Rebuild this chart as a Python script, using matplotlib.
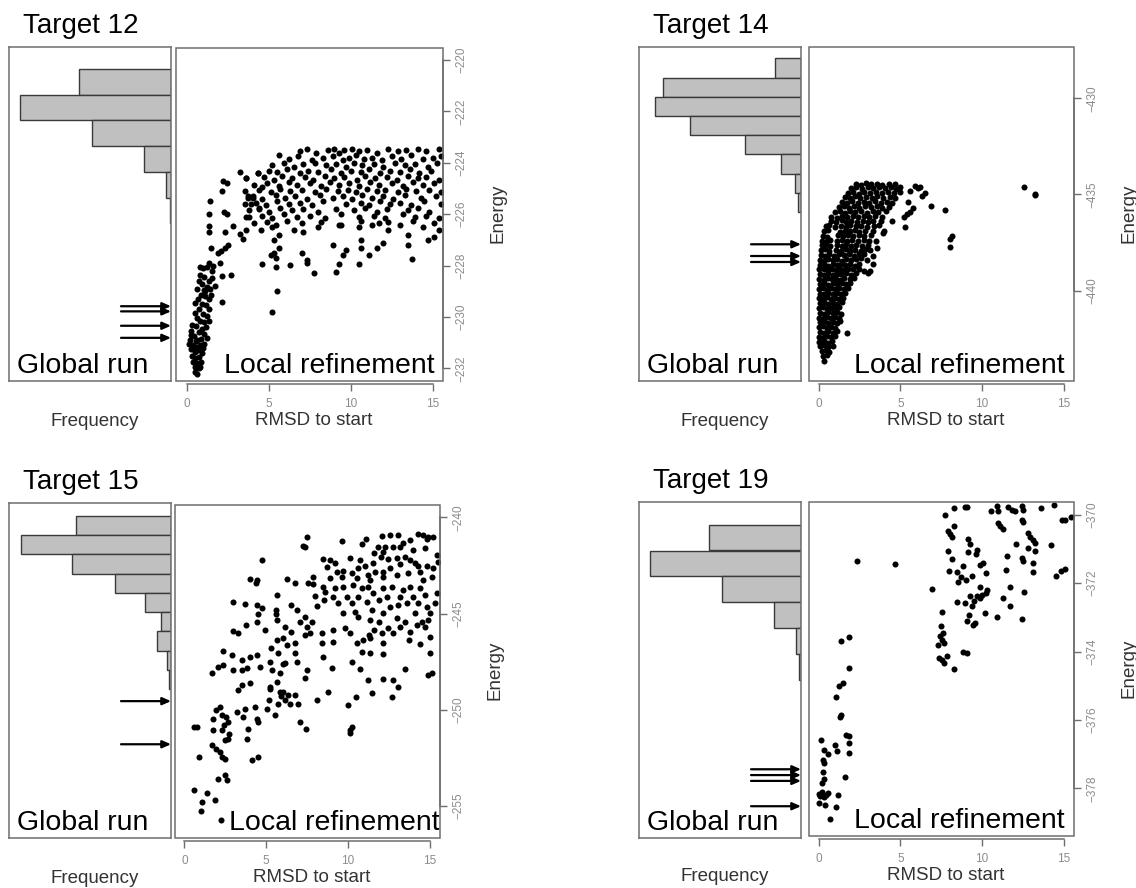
import matplotlib
matplotlib.use('Agg')
import matplotlib.pyplot as plt
from matplotlib.patches import Rectangle

plt.rcParams['font.family'] = ['Liberation Sans', 'DejaVu Sans']

W, H = 1136, 888

# ---------------- data ----------------
# Target 12
t12_bin_top = [-220.35, -221.35, -222.35, -223.35, -224.35, -225.35]
t12_bin_w = 1.0
t12_freq = [92, 151, 79, 27, 5, 1]
t12_arrows = [-229.58, -229.78, -230.34, -230.81]
t12_pts = [
    # low rmsd cluster
    (0.75, -228.05), (0.95, -228.1), (1.2, -228.05), (0.8, -228.35), (1.05, -228.45), (0.7, -228.6),
    (0.9, -228.7), (1.3, -228.6), (1.5, -228.5), (0.6, -228.9), (1.0, -228.95), (1.2, -228.85),
    (1.4, -228.9), (0.85, -229.15), (0.65, -229.3), (1.1, -229.2), (1.3, -229.3), (0.5, -229.45),
    (0.9, -229.5), (1.15, -229.55), (0.7, -229.7), (1.35, -229.7), (0.45, -229.85), (0.95, -229.9),
    (1.2, -229.95), (0.6, -230.05), (0.8, -230.15), (1.05, -230.2), (1.3, -230.15), (0.3, -230.3),
    (0.55, -230.35), (0.9, -230.45), (1.15, -230.4), (0.25, -230.55), (0.7, -230.6), (1.0, -230.65),
    (0.4, -230.75), (0.15, -230.9), (0.6, -230.9), (0.85, -230.85), (1.2, -230.8), (0.1, -231.05),
    (0.35, -231.1), (0.55, -231.15), (0.75, -231.1), (1.0, -231.05), (0.2, -231.25), (0.45, -231.35),
    (0.65, -231.3), (0.9, -231.4), (0.3, -231.5), (0.5, -231.6), (0.7, -231.55), (0.35, -231.75),
    (0.6, -231.8), (0.85, -231.75), (0.45, -231.95), (0.7, -232.0), (0.5, -232.15), (0.6, -232.2),
    (0.75, -231.95), (1.1, -229.0), (0.55, -230.95), (0.95, -231.2), (0.4, -231.15), (0.2, -230.7),
    (1.45, -229.15), (2.1, -229.4), (1.5, -228.2), (1.7, -228.8),
    # rising arm
    (1.3, -227.9), (1.55, -228.0), (2.0, -227.9), (2.1, -228.4), (2.7, -228.35), (1.45, -227.3),
    (1.9, -227.5), (2.05, -227.45), (2.3, -227.3), (2.5, -227.2), (1.35, -226.7), (2.3, -226.7),
    (2.8, -226.45), (1.3, -226.45), (3.2, -226.75), (3.4, -226.95), (1.35, -226.0), (1.4, -225.5),
    (2.1, -225.1), (2.2, -224.7), (3.2, -224.35), (3.6, -224.6), (3.7, -225.3), (3.9, -225.6),
    (3.8, -226.1), (4.0, -225.35), (4.3, -224.4), (4.4, -225.75), (4.6, -224.95), (2.4, -224.8),
    (2.4, -226.0), (2.25, -225.9),
    # main band
    (6.9, -223.55), (7.3, -223.45), (7.9, -223.6), (8.6, -223.5), (9.0, -223.45), (9.3, -223.6),
    (9.6, -223.5), (10.1, -223.45), (10.5, -223.55), (11.0, -223.5), (11.6, -223.6), (12.3, -223.45),
    (12.9, -223.55), (13.4, -223.5), (14.1, -223.45), (14.6, -223.55), (15.4, -223.45),
    (5.6, -223.7), (6.2, -223.85), (6.8, -223.75), (7.6, -223.9), (8.3, -223.8), (8.9, -223.75),
    (9.5, -223.9), (9.9, -223.8), (10.3, -223.7), (10.8, -223.85), (11.3, -223.8), (11.9, -223.9),
    (12.5, -223.75), (13.1, -223.85), (13.7, -223.7), (14.4, -223.85), (15.0, -223.8), (15.5, -223.75),
    (5.2, -224.1), (5.9, -224.0), (6.5, -224.15), (7.1, -224.05), (7.8, -224.0), (8.5, -224.1),
    (9.1, -224.05), (9.7, -224.15), (10.2, -224.0), (10.7, -224.1), (11.4, -224.05), (12.0, -224.15),
    (12.7, -224.0), (13.3, -224.1), (13.9, -224.05), (14.7, -224.15), (15.3, -224.0),
    (4.3, -224.4), (5.0, -224.3), (5.5, -224.35), (6.1, -224.25), (6.9, -224.4), (7.4, -224.3),
    (8.0, -224.35), (8.8, -224.25), (9.4, -224.4), (10.0, -224.3), (10.6, -224.35), (11.1, -224.25),
    (11.8, -224.4), (12.4, -224.3), (13.0, -224.35), (13.6, -224.25), (14.2, -224.4), (14.9, -224.3),
    (3.6, -224.6), (4.7, -224.55), (5.3, -224.65), (5.8, -224.5), (6.4, -224.6), (7.2, -224.55),
    (7.7, -224.65), (8.4, -224.5), (9.0, -224.6), (9.6, -224.55), (10.4, -224.65), (10.9, -224.5),
    (11.5, -224.6), (12.2, -224.55), (12.8, -224.65), (13.5, -224.5), (14.1, -224.6), (14.6, -224.55),
    (15.4, -224.65),
    (4.1, -224.85), (4.9, -224.8), (5.6, -224.9), (6.2, -224.75), (6.7, -224.85), (7.5, -224.8),
    (8.2, -224.9), (8.7, -224.75), (9.3, -224.85), (9.9, -224.8), (10.5, -224.9), (11.2, -224.75),
    (11.7, -224.85), (12.5, -224.8), (13.2, -224.9), (13.8, -224.75), (14.4, -224.85), (15.1, -224.8),
    (3.5, -225.1), (4.4, -225.05), (5.1, -225.15), (5.7, -225.0), (6.3, -225.1), (7.0, -225.05),
    (7.8, -225.15), (8.5, -225.0), (9.2, -225.1), (9.8, -225.05), (10.3, -225.15), (11.0, -225.0),
    (11.6, -225.1), (12.1, -225.05), (12.9, -225.15), (13.4, -225.0), (14.0, -225.1), (14.8, -225.05),
    (15.5, -225.15),
    (3.7, -225.35), (4.0, -225.3), (4.6, -225.4), (5.4, -225.25), (6.0, -225.35), (6.6, -225.3),
    (7.3, -225.4), (8.1, -225.25), (8.9, -225.35), (9.5, -225.3), (10.1, -225.4), (10.7, -225.25),
    (11.3, -225.35), (12.0, -225.3), (12.6, -225.4), (13.3, -225.25), (14.3, -225.35), (15.2, -225.3),
    (3.5, -225.6), (4.2, -225.55), (4.8, -225.65), (5.5, -225.5), (6.2, -225.6), (6.9, -225.55),
    (7.6, -225.65), (8.3, -225.5), (9.7, -225.6), (10.6, -225.55), (11.1, -225.65), (11.8, -225.5),
    (12.4, -225.6), (13.0, -225.55), (13.7, -225.65), (14.5, -225.5), (15.5, -225.6),
    (3.8, -225.85), (4.4, -225.8), (5.0, -225.9), (5.7, -225.75), (6.4, -225.85), (7.1, -225.8),
    (8.0, -225.9), (9.1, -225.8), (10.2, -225.85), (10.9, -225.75), (11.6, -225.9), (12.2, -225.8),
    (13.5, -225.85), (14.1, -225.75), (14.8, -225.9),
    (3.6, -226.1), (4.6, -226.05), (5.2, -226.15), (5.9, -226.0), (6.7, -226.1), (7.5, -226.05),
    (8.4, -226.15), (9.4, -226.0), (10.5, -226.1), (11.4, -226.05), (12.1, -226.15), (13.2, -226.0),
    (13.9, -226.1), (14.6, -226.05), (15.4, -226.15),
    (4.1, -226.35), (4.9, -226.3), (5.4, -226.4), (6.1, -226.25), (7.0, -226.35), (8.2, -226.3),
    (9.3, -226.4), (10.6, -226.25), (11.7, -226.35), (12.3, -226.3), (13.0, -226.4), (13.8, -226.25),
    (15.1, -226.35),
    # sparse lower points
    (4.5, -226.6), (5.2, -226.5), (5.6, -226.8), (6.5, -226.6), (7.1, -226.7), (8.0, -226.5),
    (9.4, -226.4), (10.5, -226.5), (11.3, -226.4), (12.3, -226.6), (13.5, -226.8), (14.4, -226.5),
    (15.4, -226.6), (14.7, -227.0), (15.1, -226.9), (3.6, -226.6), (5.3, -227.0), (5.6, -227.3),
    (5.3, -227.5), (5.45, -227.7), (5.15, -227.6), (7.0, -227.5), (8.9, -227.2), (10.6, -227.0),
    (10.6, -227.3), (11.6, -227.3), (12.0, -227.1), (13.5, -227.2), (7.3, -227.8), (9.5, -227.6),
    (9.7, -227.4), (4.55, -227.95), (5.45, -228.05), (6.3, -227.98), (7.3, -227.9), (7.76, -228.3),
    (9.08, -228.26), (9.3, -227.95), (10.5, -227.95), (11.1, -227.6), (13.73, -227.76), (5.5, -229.0),
    (5.16, -229.8),
]

# Target 14
t14_bin_top = [-427.92, -428.92, -429.92, -430.92, -431.92, -432.92, -433.92, -434.92]
t14_bin_w = 1.0
t14_freq = [25.7, 138, 145.7, 110.7, 56.4, 20, 6.4, 3]
t14_arrows = [-437.59, -438.2, -438.51]
t14_pts = [
    (0.35, -443.65), (0.25, -443.4), (0.5, -443.35), (0.2, -443.15), (0.45, -443.1), (0.65, -443.2),
    (0.1, -442.9), (0.35, -442.85), (0.6, -442.95), (0.85, -442.88),
    (0.05, -442.65), (0.3, -442.6), (0.55, -442.7), (0.8, -442.62),
    (0.0, -442.4), (0.25, -442.45), (0.5, -442.35), (0.75, -442.42), (1.0, -442.38),
    (0.1, -442.15), (0.35, -442.2), (0.6, -442.1), (0.85, -442.18), (1.1, -442.12), (1.75, -442.2),
    (0.0, -441.9), (0.25, -441.85), (0.5, -441.95), (0.75, -441.88), (1.0, -441.92),
    (0.1, -441.65), (0.35, -441.6), (0.6, -441.7), (0.85, -441.62), (1.1, -441.68), (1.3, -441.6),
    (0.0, -441.4), (0.25, -441.45), (0.5, -441.35), (0.75, -441.42), (1.0, -441.38), (1.25, -441.4),
    (0.1, -441.15), (0.35, -441.2), (0.6, -441.1), (0.85, -441.18), (1.1, -441.12), (1.35, -441.2),
    (0.0, -440.9), (0.25, -440.85), (0.5, -440.95), (0.75, -440.88), (1.0, -440.92), (1.25, -440.86),
    (0.1, -440.65), (0.35, -440.6), (0.6, -440.7), (0.85, -440.62), (1.1, -440.68), (1.4, -440.6),
    (0.0, -440.4), (0.25, -440.45), (0.5, -440.35), (0.75, -440.42), (1.0, -440.38), (1.25, -440.44),
    (1.5, -440.36),
    (0.1, -440.15), (0.35, -440.2), (0.6, -440.1), (0.85, -440.18), (1.1, -440.12), (1.35, -440.16),
    (1.6, -440.1),
    (0.0, -439.9), (0.25, -439.85), (0.5, -439.95), (0.75, -439.88), (1.0, -439.92), (1.25, -439.86),
    (1.55, -439.9), (1.8, -439.85),
    (0.1, -439.65), (0.35, -439.6), (0.6, -439.7), (0.85, -439.62), (1.1, -439.68), (1.4, -439.6),
    (1.7, -439.66), (1.95, -439.6),
    (0.05, -439.4), (0.3, -439.45), (0.55, -439.35), (0.8, -439.42), (1.05, -439.38), (1.3, -439.44),
    (1.55, -439.36), (1.9, -439.42), (2.15, -439.35),
    (0.1, -439.15), (0.35, -439.2), (0.6, -439.1), (0.85, -439.18), (1.1, -439.12), (1.35, -439.16),
    (1.65, -439.1), (2.0, -439.18), (2.3, -439.1),
    (0.05, -438.9), (0.3, -438.85), (0.55, -438.95), (0.8, -438.88), (1.05, -438.92), (1.3, -438.86),
    (1.55, -438.94), (1.8, -438.88), (2.1, -438.9), (2.45, -438.85), (2.75, -439.0), (3.15, -439.0),
    (0.1, -438.65), (0.35, -438.6), (0.6, -438.7), (0.85, -438.62), (1.1, -438.68), (1.35, -438.6),
    (1.6, -438.66), (1.9, -438.62), (2.2, -438.7), (2.5, -438.64),
    (0.1, -438.4), (0.35, -438.45), (0.6, -438.35), (0.85, -438.42), (1.1, -438.38), (1.4, -438.44),
    (1.7, -438.36), (2.0, -438.42), (2.3, -438.38), (2.6, -438.3), (2.95, -438.4),
    (0.15, -438.15), (0.4, -438.2), (0.65, -438.1), (0.95, -438.18), (1.25, -438.12), (1.55, -438.16),
    (1.85, -438.1), (2.15, -438.18), (2.45, -438.12), (2.75, -438.1), (3.3, -438.2),
    (0.15, -437.9), (0.4, -437.85), (0.65, -437.95), (1.05, -437.88), (1.35, -437.92), (1.65, -437.86),
    (1.95, -437.94), (2.25, -437.88), (2.6, -437.92), (2.9, -437.85), (3.15, -437.9),
    (0.2, -437.65), (0.45, -437.6), (0.7, -437.7), (1.1, -437.62), (1.4, -437.68), (1.7, -437.6),
    (2.0, -437.66), (2.3, -437.62), (2.65, -437.7), (3.0, -437.64), (3.6, -437.8),
    (0.2, -437.4), (0.45, -437.45), (0.7, -437.35), (1.15, -437.42), (1.45, -437.38), (1.75, -437.44),
    (2.05, -437.36), (2.4, -437.42), (2.75, -437.38), (3.1, -437.44), (3.5, -437.4),
    (0.25, -437.15), (0.5, -437.2), (1.2, -437.1), (1.5, -437.18), (1.8, -437.12), (2.1, -437.16),
    (2.45, -437.1), (2.8, -437.18), (3.2, -437.12), (3.96, -437.0),
    (0.3, -436.9), (0.55, -436.85), (1.3, -436.95), (1.6, -436.88), (1.9, -436.92), (2.2, -436.86),
    (2.5, -436.94), (2.85, -436.88), (3.3, -436.9), (4.0, -436.9),
    (0.45, -436.65), (0.65, -436.6), (1.0, -436.7), (1.35, -436.62), (1.65, -436.68), (1.95, -436.6),
    (2.3, -436.66), (2.6, -436.62), (2.95, -436.7), (3.4, -436.64), (3.7, -436.6), (5.29, -436.7),
    (0.75, -436.4), (1.05, -436.45), (1.4, -436.35), (1.7, -436.42), (2.0, -436.38), (2.35, -436.44),
    (2.7, -436.36), (3.0, -436.42), (3.35, -436.38), (3.8, -436.4), (4.5, -436.4),
    (0.75, -436.15), (1.1, -436.2), (1.45, -436.1), (1.75, -436.18), (2.1, -436.12), (2.4, -436.16),
    (2.75, -436.1), (3.1, -436.18), (3.45, -436.12), (3.9, -436.16), (5.4, -436.0), (5.25, -436.15),
    (1.0, -435.9), (1.3, -435.85), (1.6, -435.95), (1.95, -435.88), (2.25, -435.92), (2.6, -435.86),
    (2.95, -435.94), (3.3, -435.88), (3.65, -435.92), (4.1, -435.86), (5.6, -435.9),
    (1.25, -435.65), (1.55, -435.6), (1.85, -435.7), (2.15, -435.62), (2.5, -435.68), (2.85, -435.6),
    (3.2, -435.66), (3.55, -435.62), (3.9, -435.7), (4.3, -435.64), (5.8, -435.7), (6.9, -435.6),
    (7.73, -435.8),
    (1.45, -435.4), (1.75, -435.45), (2.05, -435.35), (2.4, -435.42), (2.75, -435.38), (3.1, -435.44),
    (3.45, -435.36), (3.8, -435.42), (4.2, -435.38), (4.5, -435.44), (5.45, -435.4),
    (1.6, -435.15), (1.9, -435.2), (2.2, -435.1), (2.55, -435.18), (2.9, -435.12), (3.25, -435.16),
    (3.6, -435.1), (3.95, -435.18), (4.35, -435.12), (4.7, -435.16), (6.3, -435.1), (13.23, -435.05),
    (1.8, -434.9), (2.1, -434.85), (2.45, -434.95), (2.8, -434.88), (3.15, -434.92), (3.5, -434.86),
    (3.85, -434.94), (4.25, -434.88), (4.6, -434.92), (4.95, -434.86), (5.6, -434.8), (6.5, -434.9),
    (13.25, -434.95),
    (2.0, -434.65), (2.3, -434.6), (2.65, -434.7), (3.0, -434.62), (3.35, -434.68), (3.7, -434.6),
    (4.05, -434.66), (4.4, -434.62), (4.75, -434.7), (5.0, -434.6), (6.1, -434.65), (12.56, -434.63),
    (2.3, -434.45), (2.6, -434.5), (2.9, -434.42), (3.2, -434.48), (3.55, -434.44), (3.9, -434.5),
    (4.3, -434.45), (4.7, -434.48), (5.9, -434.55), (6.2, -434.6),
    (8.04, -437.3), (8.14, -437.15), (8.04, -437.75), (3.3, -438.6), (3.0, -439.1),
]

# Target 15
t15_bin_top = [-239.93, -240.93, -241.93, -242.93, -243.93, -244.93, -245.93, -246.93, -247.93]
t15_bin_w = 1.0
t15_freq = [94.7, 149.7, 98.7, 55.7, 26.4, 10.4, 13.7, 4.4, 2.4]
t15_arrows = [-249.55, -251.79]
t15_pts = [
    (7.47, -241.04), (7.27, -241.49), (7.37, -241.55), (9.65, -241.21), (10.87, -241.39), (11.09, -241.13),
    (12.05, -240.95), (12.56, -240.92), (13.07, -240.92), (14.29, -240.88), (14.59, -240.92), (14.9, -241.04),
    (15.2, -241.04), (14.8, -241.15), (13.37, -241.35), (13.78, -241.18), (11.85, -241.56), (12.26, -241.56),
    (12.72, -241.53), (13.17, -241.56), (13.98, -241.7), (14.7, -241.61), (15.41, -241.96), (11.58, -241.87),
    (12.15, -241.79),
    (4.72, -242.22), (8.45, -242.17), (8.9, -242.22), (9.2, -242.36), (10.12, -242.13), (10.72, -242.22),
    (11.03, -242.53), (11.54, -242.36), (11.99, -242.08), (12.46, -242.18), (12.97, -242.13), (13.47, -242.05),
    (14.08, -242.36), (14.29, -242.53), (14.8, -242.53), (15.2, -242.65), (15.51, -242.31), (13.78, -242.22),
    (13.17, -242.43), (12.56, -242.65), (12.15, -242.83), (11.64, -242.83), (11.2, -243.0), (10.62, -242.65),
    (10.22, -242.91), (9.71, -242.77), (9.3, -242.83), (8.69, -242.57), (7.88, -243.09), (7.57, -243.43),
    (6.25, -243.23), (6.76, -243.43), (4.42, -243.26), (4.37, -243.43), (4.0, -243.23), (8.9, -243.17),
    (9.61, -243.09), (10.52, -243.17), (11.34, -243.26), (12.15, -243.09), (12.97, -243.0), (13.68, -242.91),
    (14.39, -242.83), (15.1, -243.09), (14.59, -243.26),
    (2.99, -244.42), (3.7, -244.51), (4.46, -244.56), (4.52, -245.03), (4.72, -244.73), (5.68, -244.04),
    (5.6, -244.79), (5.6, -245.0), (6.49, -244.53), (6.86, -244.82), (7.37, -245.17), (7.77, -245.43),
    (7.98, -244.09), (8.53, -244.3), (8.59, -243.87), (9.1, -244.13), (9.4, -244.44), (9.91, -244.13),
    (10.22, -244.47), (10.62, -244.13), (11.13, -244.39), (11.54, -243.95), (11.91, -244.3), (12.36, -244.13),
    (12.56, -244.65), (13.07, -244.56), (13.17, -244.13), (13.61, -244.44), (13.98, -244.13), (14.29, -244.47),
    (14.8, -244.65), (15.41, -243.95), (15.3, -244.47), (14.7, -244.05), (13.78, -243.61), (14.39, -243.69),
    (13.37, -243.78), (12.66, -243.61), (12.15, -243.69), (11.24, -243.61), (10.83, -243.69), (10.28, -243.52),
    (9.71, -243.61), (9.2, -243.69), (8.45, -243.61), (7.88, -243.47), (8.08, -244.61), (10.42, -244.91),
    (11.44, -244.82), (12.15, -244.99), (14.08, -244.99), (15.0, -244.99), (9.71, -244.99),
    (2.99, -245.91), (3.3, -246.03), (3.77, -245.57), (4.46, -245.43), (4.93, -245.86), (5.64, -245.34),
    (6.15, -245.69), (6.49, -245.95), (7.06, -245.43), (7.47, -245.69), (7.69, -246.03), (7.37, -246.12),
    (5.64, -246.38), (6.04, -246.29), (6.25, -246.64), (6.76, -246.55), (8.38, -246.0), (9.1, -245.86),
    (8.38, -246.55), (9.1, -246.47), (9.81, -245.77), (10.12, -246.03), (10.52, -246.52), (10.93, -246.38),
    (11.28, -246.12), (11.58, -245.86), (12.05, -246.03), (12.46, -245.77), (12.76, -246.03), (13.17, -245.69),
    (13.47, -245.43), (13.78, -245.95), (14.18, -245.6), (14.49, -245.43), (14.69, -245.69), (15.0, -246.21),
    (14.39, -246.59), (13.74, -246.35), (12.15, -246.55), (11.34, -246.29), (10.62, -245.17), (11.34, -245.34),
    (11.91, -245.43), (12.97, -245.25), (14.9, -245.34),
    (2.38, -246.94), (2.89, -247.16), (3.5, -247.42), (4.0, -247.25), (4.42, -247.16), (2.99, -247.94),
    (3.5, -247.94), (3.81, -247.85), (4.62, -247.77), (5.23, -247.51), (5.27, -246.81), (5.74, -247.07),
    (6.15, -247.56), (6.76, -247.07), (6.86, -247.51), (7.47, -247.94), (7.37, -248.34), (8.49, -247.25),
    (9.04, -247.82), (10.22, -247.51), (10.72, -247.86), (10.83, -246.99), (11.34, -247.07), (11.24, -248.46),
    (12.15, -248.38), (12.76, -248.46), (13.02, -248.81), (13.47, -247.86), (15.0, -247.07), (14.9, -248.2),
    (15.1, -248.1), (12.15, -247.12), (5.33, -247.94), (5.84, -248.11), (6.05, -247.6), (1.67, -248.08),
    (4.0, -248.63), (3.5, -248.72), (3.3, -248.98), (5.23, -248.81), (5.64, -248.55), (5.84, -249.07),
    (6.04, -249.07), (6.35, -249.24), (6.15, -249.47), (5.9, -249.3), (6.76, -249.24), (6.96, -249.68),
    (6.45, -249.68), (5.74, -249.68), (8.08, -249.5), (8.79, -249.07), (10.01, -249.76), (10.48, -249.36),
    (11.44, -249.12), (12.66, -249.33), (10.12, -251.06), (10.12, -251.2), (10.22, -250.89),
    (2.08, -247.77), (2.38, -247.68),
    (2.18, -249.85), (1.93, -250.02), (2.28, -250.28), (1.77, -250.46), (2.54, -250.37), (2.69, -250.63),
    (2.42, -250.8), (1.77, -251.06), (2.28, -251.06), (2.75, -251.24), (2.69, -251.5), (2.48, -251.58),
    (1.67, -251.84), (1.93, -252.02), (2.18, -252.19), (2.28, -252.45), (2.48, -252.54), (0.61, -250.89),
    (0.75, -250.89), (0.92, -252.45), (2.08, -253.58), (2.48, -253.4), (2.58, -253.66), (0.59, -254.18),
    (1.36, -254.32), (1.1, -254.79), (1.87, -254.7), (1.02, -255.26), (2.22, -255.71), (3.91, -250.98),
    (3.81, -251.5), (4.11, -252.62), (4.52, -252.45), (4.42, -250.46), (4.52, -250.63), (3.7, -249.94),
    (3.6, -250.37), (4.32, -249.85), (3.2, -250.11), (5.03, -249.94), (5.19, -249.5), (5.23, -248.9),
    (5.54, -250.28), (7.06, -250.63), (7.43, -250.98),
]

# Target 19
t19_bin_top = [-370.29, -371.05, -371.8, -372.56, -373.31, -374.07]
t19_bin_w = 0.755
t19_freq = [92.4, 150.7, 78.7, 27.4, 5.4, 2]
t19_arrows = [-377.44, -377.61, -377.78, -378.52]
t19_pts = [
    (0.0, -378.15), (0.1, -378.21), (0.2, -378.1), (0.31, -378.24), (0.47, -378.2), (0.55, -378.13),
    (0.0, -378.44), (0.41, -378.49), (1.08, -378.54), (0.67, -378.88), (1.16, -378.2), (0.2, -377.85),
    (0.31, -377.71), (0.26, -377.51), (0.31, -377.27), (0.26, -377.17), (0.14, -376.59), (0.31, -376.88),
    (0.55, -376.98), (1.02, -376.73), (1.12, -376.9), (1.59, -377.66), (1.67, -376.44), (1.85, -376.47),
    (1.83, -376.68), (1.83, -376.95), (1.28, -375.9), (1.36, -375.85), (1.08, -375.34), (1.22, -375.02),
    (1.49, -374.91), (1.83, -374.47), (1.36, -373.69), (1.83, -373.58), (2.34, -371.34), (4.7, -371.43),
    (6.92, -372.18),
    (7.53, -372.85), (7.49, -373.24), (7.59, -373.46), (7.43, -373.56), (7.53, -373.66), (7.67, -373.76),
    (7.29, -373.8), (7.37, -374.2), (7.53, -374.26), (7.67, -374.34), (8.28, -374.5), (7.84, -374.13),
    (8.85, -374.02), (9.06, -374.03), (7.73, -370.0), (8.28, -369.8), (8.96, -369.78), (9.1, -369.78),
    (10.58, -369.9), (10.89, -369.76), (10.99, -369.9), (11.6, -369.79), (11.81, -369.85), (12.01, -369.9),
    (12.42, -369.76), (12.52, -369.87), (13.64, -369.8), (14.39, -369.73), (15.47, -370.07), (15.06, -370.15),
    (14.92, -370.17), (14.25, -370.9), (13.13, -370.73), (12.82, -370.98), (13.23, -371.05), (12.92, -370.65),
    (12.11, -370.85), (12.42, -371.27), (12.52, -371.34), (11.5, -371.22), (11.46, -371.61), (11.74, -372.1),
    (12.56, -372.27), (11.3, -372.44), (11.7, -372.66), (10.93, -373.0), (12.42, -373.04), (14.55, -371.8),
    (14.86, -371.66), (15.06, -371.59), (13.13, -371.41), (13.13, -371.69), (12.42, -370.15), (12.52, -370.22),
    (10.99, -370.24), (11.3, -370.42), (11.13, -370.32), (12.82, -370.54), (13.23, -370.83), (7.94, -370.47),
    (8.04, -370.57), (8.14, -370.65), (8.28, -370.32), (7.94, -371.07), (8.14, -371.3), (7.98, -371.66),
    (8.45, -371.69), (8.55, -371.98), (8.69, -371.83), (8.85, -371.49), (9.02, -371.9), (9.36, -371.8),
    (9.16, -370.71), (9.26, -370.85), (9.16, -371.1), (9.67, -371.02), (9.63, -371.14), (9.87, -371.46),
    (10.08, -371.41), (10.24, -371.71), (10.28, -372.2), (10.24, -372.29), (9.87, -372.44), (9.67, -372.39),
    (9.51, -372.51), (9.36, -372.68), (9.22, -372.93), (9.06, -373.12), (9.42, -373.22), (9.57, -373.17),
    (8.96, -372.59), (8.45, -372.54), (10.18, -372.88), (9.26, -372.39), (9.97, -372.34), (9.87, -372.1),
]

BOX = '#6e6e6e'
TICKLAB = '#8c8c8c'
BIG = 20.5


def frac(l, t, r, b):
    # pixel box -> figure fraction
    return [l / W, 1 - b / H, (r - l) / W, (b - t) / H]


def panel(fig, title, hist_px, scat_px, xlim, ylim, yticks, pts, bin_top, bin_w, freq, arrows, local_x):
    sl, st, sr, sb = scat_px
    hl, ht, hr, hb = hist_px
    # energy per pixel of the scatter box, so the histogram lines up with it
    upp = (ylim[1] - ylim[0]) / (sb - st)
    hylim = (ylim[0] - (hb - sb) * upp, ylim[1] + (st - ht) * upp)

    # histogram of the global run
    hx = fig.add_axes(frac(*hist_px))
    bottoms = [t - bin_w for t in bin_top]
    hx.barh(bottoms, freq, height=bin_w, align='edge', color='#c0c0c0',
            edgecolor='#3a3a3a', linewidth=1.0)
    hx.set_xlim(hr - hl, 0)
    hx.set_ylim(hylim)
    hx.set_xticks([])
    hx.set_yticks([])
    for s in hx.spines.values():
        s.set_color(BOX)
        s.set_linewidth(1.1)
    for ya in arrows:
        hx.annotate('', xy=(0, ya), xytext=(50, ya),
                    arrowprops=dict(arrowstyle='-|>,head_length=0.5,head_width=0.22',
                                    color='black', lw=1.6, shrinkA=0, shrinkB=0))
    hx.text(8 / (hr - hl), 0.024, 'Global run', transform=hx.transAxes,
            fontsize=BIG, ha='left', va='baseline')

    # local refinement scatter
    sx = fig.add_axes(frac(*scat_px))
    xs = [p[0] for p in pts]
    ys = [p[1] for p in pts]
    sx.scatter(xs, ys, s=19, c='black', linewidths=0, zorder=3)
    sx.set_xlim(xlim)
    sx.set_ylim(ylim)
    sx.add_patch(Rectangle((0, 0), 1, 1, transform=sx.transAxes, fill=False,
                           ec=BOX, lw=1.1, clip_on=False, zorder=5))
    sx.spines['top'].set_visible(False)
    sx.spines['left'].set_visible(False)
    sx.spines['bottom'].set_position(('outward', 2.5))
    sx.spines['bottom'].set_bounds(0, 15)
    sx.spines['right'].set_bounds(yticks[-1], yticks[0])
    for k in ('bottom', 'right'):
        sx.spines[k].set_color(BOX)
        sx.spines[k].set_linewidth(1.1)
    sx.yaxis.tick_right()
    sx.set_xticks([0, 5, 10, 15])
    sx.set_yticks(yticks)
    sx.tick_params(axis='both', direction='out', length=5, width=1, color=BOX,
                   labelcolor=TICKLAB, labelsize=8.5)
    sx.tick_params(axis='x', pad=5)
    sx.tick_params(axis='y', pad=4, labelrotation=90)
    for lab in sx.get_yticklabels():
        lab.set_va('center')
    sx.text(local_x, 0.024, 'Local refinement', transform=sx.transAxes,
            fontsize=BIG, ha='right', va='baseline', zorder=4)

    # labels around the panel
    fig.text((hl + 14) / W, 1 - (ht - 14) / H, title, fontsize=20, va='baseline')
    fig.text(((hl + hr) / 2 + 5) / W, 1 - (sb + 40) / H, 'Frequency',
             fontsize=13.5, ha='center', va='center', color='#333333')
    fig.text(((sl + sr) / 2 + 4) / W, 1 - (sb + 39) / H, 'RMSD to start',
             fontsize=13.5, ha='center', va='center', color='#333333')
    fig.text((sr + 55) / W, 1 - ((st + sb) / 2 - 1) / H, 'Energy', rotation=90,
             fontsize=13.5, ha='center', va='center', color='#333333')


fig = plt.figure(figsize=(W / 100, H / 100), dpi=100)

panel(fig, 'Target 12', (9, 47, 171, 381), (176, 48, 443, 381), (-0.69, 15.64), (-232.49, -219.53),
      [-220, -222, -224, -226, -228, -230, -232], t12_pts, t12_bin_top, t12_bin_w, t12_freq, t12_arrows, 0.97)
panel(fig, 'Target 14', (639, 47, 801, 381), (809, 47, 1074, 381), (-0.59, 15.63), (-444.7, -427.33),
      [-430, -435, -440], t14_pts, t14_bin_top, t14_bin_w, t14_freq, t14_arrows, 0.966)
panel(fig, 'Target 15', (9, 503, 171, 838), (175, 505, 440, 838), (-0.57, 15.61), (-256.66, -239.36),
      [-240, -245, -250, -255], t15_pts, t15_bin_top, t15_bin_w, t15_freq, t15_arrows, 1.0)
panel(fig, 'Target 19', (639, 502, 801, 838), (809, 502, 1074, 836), (-0.59, 15.63), (-379.39, -369.63),
      [-370, -372, -374, -376, -378], t19_pts, t19_bin_top, t19_bin_w, t19_freq, t19_arrows, 0.966)

fig.savefig('out.png', dpi=100)
